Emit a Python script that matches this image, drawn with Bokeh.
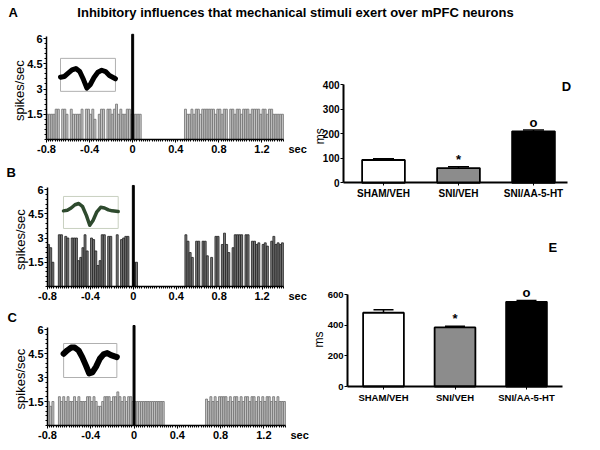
import numpy as np
from bokeh.plotting import figure
from bokeh.layouts import column, row
from bokeh.models import Range1d, FixedTicker, Label, ColumnDataSource, LinearAxis
from bokeh.embed import file_html
from bokeh.resources import INLINE

FONT = "Liberation Sans"

# ---------------- data ----------------
title_text = "Inhibitory influences that mechanical stimuli exert over mPFC neurons"
bin_start = -0.8
bin_width = 0.02
stim_time = 0.0
stim_height = 6.25

a_rate = [1.5, 1.5, 1.5, 1.5, 1.8, 1.8, 0, 1.8, 1.8, 1.5,
          0, 1.8, 1.5, 1.5, 1.5, 1.5, 1.8, 0, 1.8, 1.8,
          1.5, 1.8, 1.2, 0, 1.5, 1.8, 1.8, 0, 1.8, 1.8,
          1.5, 1.8, 2.1, 1.5, 1.8, 1.5, 1.5, 1.8, 1.8, 1.5,
          1.5, 1.5, 1.5, 1.5, 0, 0, 0, 0, 0, 0,
          0, 0, 0, 0, 0, 0, 0, 0, 0, 0,
          0, 0, 0, 0, 1.8, 1.5, 1.5, 1.8, 1.5, 1.8,
          1.8, 1.5, 1.8, 1.8, 1.8, 1.8, 1.8, 1.8, 1.5, 1.8,
          1.8, 1.5, 1.8, 1.8, 0, 1.8, 1.8, 1.5, 1.8, 1.8,
          1.5, 1.8, 1.8, 1.8, 1.5, 1.8, 1.8, 1.8, 1.8, 1.5,
          1.8, 1.8, 1.5, 1.8, 1.8, 1.5, 1.5, 1.5, 1.5, 1.5]

b_rate = [2.6, 2.4, 1.5, 0, 0, 3.2, 3.2, 0, 3.1, 3.0,
          0, 3.0, 3.0, 3.0, 1.6, 1.8, 2.4, 3.2, 2.2, 0,
          3.0, 2.9, 2.2, 1.3, 1.6, 3.2, 3.2, 0, 3.1, 3.1,
          0, 0, 3.2, 0, 2.9, 3.0, 3.1, 3.1, 0, 0,
          1.5, 1.5, 0, 0, 0, 0, 0, 0, 0, 0,
          0, 0, 0, 0, 0, 0, 0, 0, 0, 0,
          0, 0, 0, 0, 3.2, 2.8, 2.1, 1.8, 0, 2.8,
          2.8, 0, 2.8, 2.8, 1.9, 0, 1.8, 0, 3.1, 3.1,
          0, 2.6, 3.3, 2.6, 2.1, 0, 2.4, 3.2, 3.2, 3.2,
          3.2, 0, 3.2, 3.2, 0, 2.8, 2.8, 2.6, 2.7, 0,
          2.6, 2.7, 2.5, 0, 2.8, 3.1, 2.6, 2.7, 2.6, 2.7]

c_rate = [1.5, 1.2, 1.5, 0, 0, 1.8, 1.5, 1.8, 1.5, 1.8,
          1.5, 1.5, 1.8, 1.5, 1.8, 1.5, 1.5, 1.5, 1.8, 1.8,
          1.5, 1.8, 1.5, 1.2, 1.2, 1.5, 1.8, 1.8, 1.8, 1.5,
          1.8, 1.8, 2.1, 1.8, 1.5, 1.8, 1.5, 1.8, 1.8, 1.5,
          1.5, 1.5, 1.5, 1.5, 1.5, 1.5, 1.5, 1.5, 1.5, 1.5,
          1.5, 1.5, 1.5, 1.5, 0, 0, 0, 0, 0, 0,
          0, 0, 0, 0, 0, 0, 0, 0, 0, 0,
          0, 0, 0, 1.65, 1.5, 1.8, 1.5, 1.8, 1.5, 1.8,
          1.8, 1.8, 1.8, 1.5, 1.8, 1.5, 1.8, 1.8, 1.5, 1.8,
          1.5, 1.8, 1.8, 1.5, 1.8, 1.8, 1.5, 1.8, 1.5, 1.8,
          1.5, 1.8, 1.8, 1.5, 1.8, 1.5, 1.8, 1.5, 1.5, 1.5]

x_ticks = [-0.8, -0.4, 0, 0.4, 0.8, 1.2]
x_tick_labels = ["-0.8", "-0.4", "0", "0.4", "0.8", "1.2"]
y_ticks = [1.5, 3, 4.5, 6]
y_tick_labels = ["1.5", "3", "4.5", "6"]

# spike waveforms (normalised inside the inset box)
wave_x = [0, 0.07, 0.14, 0.21, 0.28, 0.35, 0.42, 0.48, 0.54, 0.61, 0.68, 0.75, 0.82, 0.89, 1.0]
wave_a = [0.43, 0.45, 0.55, 0.65, 0.69, 0.60, 0.35, 0.10, 0.20, 0.42, 0.58, 0.64, 0.60, 0.48, 0.38]
wave_b = [0.55, 0.57, 0.64, 0.74, 0.78, 0.68, 0.40, 0.10, 0.25, 0.52, 0.66, 0.64, 0.58, 0.55, 0.53]
wave_c = [0.70, 0.80, 0.88, 0.88, 0.80, 0.60, 0.35, 0.12, 0.15, 0.32, 0.55, 0.68, 0.72, 0.66, 0.60]

groups = ["SHAM/VEH", "SNI/VEH", "SNI/AA-5-HT"]
group_colors = ["#ffffff", "#8c8c8c", "#000000"]
d_mean = [93, 60, 210]
d_err = [5, 6, 6]
e_mean = [481, 385, 552]
e_err = [19, 8, 9]
sig_marks = ["", "*", "o"]
d_ticks = [0, 100, 200, 300, 400]
e_ticks = [0, 200, 400, 600]


# ---------------- layout helpers (pixel geometry of the composite figure) ----------------
def ranges(box, xa, ya):
    """box=(left, top, right, bottom) in page px; xa/ya = ((px, value), (px, value))."""
    l, t, r, b = box
    (px1, v1), (px2, v2) = xa
    sx = (v2 - v1) / (px2 - px1)
    (py1, w1), (py2, w2) = ya
    sy = (w2 - w1) / (py1 - py2)
    xr = Range1d(v1 + (l - px1) * sx, v1 + (r - px1) * sx)
    yr = Range1d(w1 - (b - py1) * sy, w1 + (py1 - t) * sy)
    return xr, yr, r - l, b - t


def style_axis(ax, size):
    ax.axis_line_width = 1.5
    ax.axis_line_color = "black"
    ax.major_tick_line_color = "black"
    ax.minor_tick_line_color = "black"
    ax.major_tick_in = 0
    ax.major_tick_out = 3
    ax.minor_tick_in = 0
    ax.minor_tick_out = 2
    ax.major_label_text_font = FONT
    ax.major_label_text_font_style = "bold"
    ax.major_label_text_font_size = size
    ax.major_label_text_color = "black"
    ax.major_label_standoff = 1


def base_fig(xr, yr, w, h):
    p = figure(width=w, height=h, x_range=xr, y_range=yr, x_axis_location=None, y_axis_location=None,
               output_backend="svg", toolbar_location=None, min_border=0)
    p.grid.visible = False
    p.outline_line_color = None
    return p


def lbl(p, x, y, text, dx=0, dy=0, size="13px", bold=True, align="center", angle=0):
    p.add_layout(Label(x=x, y=y, x_offset=dx, y_offset=dy, text=text, angle=angle,
                       text_align=align, text_baseline="middle", text_font=FONT,
                       text_font_style="bold" if bold else "normal",
                       text_font_size=size, text_color="black"))


def hist_panel(rate, fill, line, wave, wave_color, wave_w, box, box_color, letter, letter_pos, geom):
    xr, yr, w, h = ranges(*geom)
    p = base_fig(xr, yr, w, h)
    centers = [bin_start + (i + 0.5) * bin_width for i in range(len(rate))]
    xs = [c for c, r in zip(centers, rate) if r > 0]
    ys = [r for r in rate if r > 0]
    p.vbar(x=xs, top=ys, bottom=0, width=bin_width * 0.9, fill_color=fill, line_color=line, line_width=0.8)
    p.vbar(x=[stim_time], top=[stim_height], bottom=0, width=0.018, fill_color="black", line_color="black")
    x0, x1, y0, y1 = box
    p.quad(left=[x0], right=[x1], bottom=[y0], top=[y1], fill_color="white", line_color=box_color, line_width=1)
    wx = [x0 + (x1 - x0) * v for v in wave_x]
    wy = [y0 + (y1 - y0) * v for v in wave]
    p.line(wx, wy, line_color=wave_color, line_width=wave_w, line_cap="round", line_join="round")

    xa = LinearAxis(fixed_location=0, bounds=(-0.8, 1.4),
                    ticker=FixedTicker(ticks=x_ticks, minor_ticks=list(np.round(np.arange(-0.8, 1.401, 0.02), 2))))
    xa.major_label_overrides = {t: l for t, l in zip(x_ticks, x_tick_labels)}
    style_axis(xa, "11px")
    xa.major_label_standoff = 2
    p.add_layout(xa, "below")
    ya = LinearAxis(fixed_location=-0.8, bounds=(0, 6.1),
                    ticker=FixedTicker(ticks=y_ticks, minor_ticks=list(np.round(np.arange(0, 6.01, 0.3), 2))))
    ya.major_label_overrides = {t: l for t, l in zip(y_ticks, y_tick_labels)}
    style_axis(ya, "11px")
    p.add_layout(ya, "left")

    lbl(p, -0.8, 2.9, "spikes/sec", dx=-27, size="13px", bold=False, angle=np.pi / 2)
    lbl(p, 1.4, 0, "sec", dx=5, dy=-9, size="11px", align="left")
    if letter:
        lbl(p, -0.8, 6, letter, dx=letter_pos[0], dy=letter_pos[1], size="13px", align="left")
    return p


def bar_panel(mean, err, ticks, geom, xbounds, ybounds, letter, letter_pos, ms_pos, tick_size, cat_size):
    xr, yr, w, h = ranges(*geom)
    p = base_fig(xr, yr, w, h)
    xs = [i + 1 for i in range(len(groups))]
    src = ColumnDataSource(dict(x=xs, top=mean, color=group_colors))
    p.vbar(x="x", top="top", bottom=0, width=0.57, fill_color="color", line_color="black",
           line_width=1.8, source=src)
    up = [m + e for m, e in zip(mean, err)]
    p.segment(x0=xs, y0=mean, x1=xs, y1=up, line_color="black", line_width=1.5)
    p.segment(x0=[x - 0.14 for x in xs], y0=up, x1=[x + 0.14 for x in xs], y1=up,
              line_color="black", line_width=1.5)
    p.text(x=xs, y=up, text=sig_marks, text_align="center", text_baseline="bottom",
           text_font_size="13px", text_font={"value": FONT}, text_font_style="bold", text_color="black")
    xa = LinearAxis(fixed_location=0, bounds=xbounds, ticker=FixedTicker(ticks=xs, minor_ticks=[]))
    xa.major_label_overrides = {x: g for x, g in zip(xs, groups)}
    style_axis(xa, cat_size)
    xa.axis_line_width = 2
    xa.major_label_standoff = 2
    p.add_layout(xa, "below")
    ya = LinearAxis(fixed_location=xbounds[0], bounds=ybounds, ticker=FixedTicker(ticks=ticks, minor_ticks=[]))
    style_axis(ya, tick_size)
    ya.axis_line_width = 2
    p.add_layout(ya, "left")
    lbl(p, xbounds[0], ms_pos[0], "ms", dx=ms_pos[1], size="12px", bold=False, angle=np.pi / 2)
    lbl(p, letter_pos[0], ybounds[1], letter, dx=letter_pos[1], dy=letter_pos[2], size="13px")
    return p


# header
hd = figure(width=600, height=30, x_range=Range1d(0, 600), y_range=Range1d(0, 30),
            x_axis_type=None, y_axis_type=None, output_backend="svg", toolbar_location=None,
            min_border=0)
hd.grid.visible = False
hd.outline_line_color = None
lbl(hd, 8, 18, "A", align="left")
lbl(hd, 295, 18, title_text)

pa = hist_panel(a_rate, "#c9c9c9", "#6f6f6f", wave_a, "black", 5, (-0.67, -0.16, 2.86, 4.82), "#b0b0b0",
                None, None, ((0, 30, 311, 160), ((46, -0.8), (283, 1.4)), ((139, 0), (38, 6))))
pb = hist_panel(b_rate, "#7d7d7d", "#1e1e1e", wave_b, "#2e4a2e", 3.5, (-0.651, -0.141, 3.59, 5.57), "#c8d0c0",
                "B", (-41, 17), ((0, 160, 311, 306), ((47, -0.8), (283, 1.4)), ((286, 0), (189, 6))))
pc = hist_panel(c_rate, "#c6c6c6", "#6f6f6f", wave_c, "black", 6, (-0.651, -0.159, 3.0, 5.125), "#b0b0b0",
                "C", (-40, 12), ((0, 306, 311, 448), ((47, -0.8), (285, 1.4)), ((425, 0), (329, 6))))

pd = bar_panel(d_mean, d_err, d_ticks, ((311, 30, 600, 225), ((383, 1), (533, 3)), ((182.3, 0), (84.3, 400))),
               (0.467, 3.453), (0, 400), "D", (3.453, -1, -2), (190, -24), "10px", "10px")
pe = bar_panel(e_mean, e_err, e_ticks, ((311, 225, 600, 448), ((383, 1), (526, 3)), ((386, 0), (294, 600))),
               (0.4965, 3.503), (0, 600), "E", (3.37, 0, 47), (306, -28), "9.5px", "9.5px")

layout = column(hd, row(column(pa, pb, pc), column(pd, pe)))
open("out.html", "w").write(file_html(layout, INLINE))
